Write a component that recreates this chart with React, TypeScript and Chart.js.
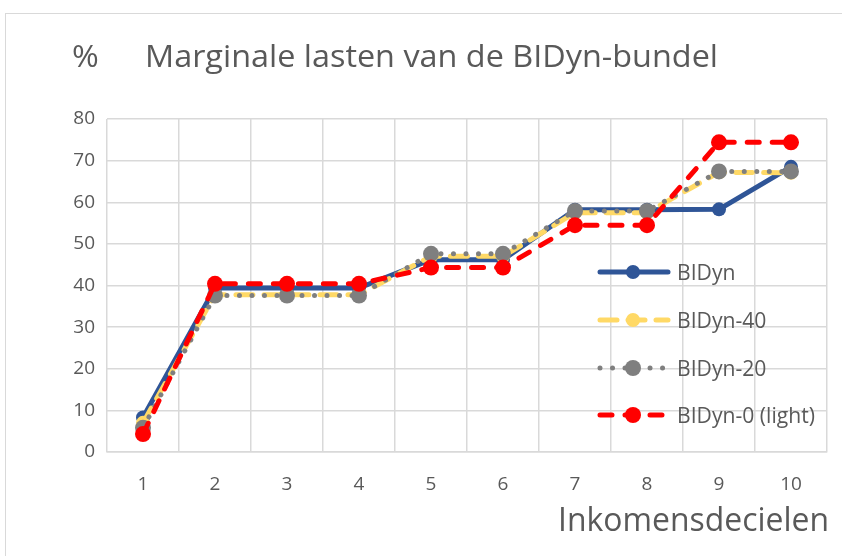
import React, { useEffect, useRef } from "react";
import { Chart, registerables } from "chart.js";

Chart.register(...registerables);

const categories = ["1", "2", "3", "4", "5", "6", "7", "8", "9", "10"];
const seriesNames = ["BIDyn", "BIDyn-40", "BIDyn-20", "BIDyn-0 (light)"];
const bidyn = [8.3, 39.4, 39.4, 39.4, 46.2, 46.2, 58.2, 58.2, 58.3, 68.5];
const bidyn40 = [7.0, 37.8, 37.8, 37.8, 47.0, 47.0, 57.5, 57.5, 67.2, 67.1];
const bidyn20 = [5.8, 37.6, 37.6, 37.6, 47.6, 47.6, 57.9, 57.9, 67.4, 67.4];
const bidyn0 = [4.3, 40.4, 40.4, 40.4, 44.3, 44.3, 54.5, 54.5, 74.4, 74.4];
const titleText = "Marginale lasten van de BIDyn-bundel";
const unitText = "%";
const xTitleText = "Inkomensdecielen";

const FONT = "'Open Sans', 'Noto Sans', sans-serif";
const TEXT = "#595959";
const GRID = "#d9d9d9";

const styles = [
  { color: "#2F5597", dash: [] as number[], radius: 7 },
  { color: "#FFD966", dash: [17, 11], radius: 7 },
  { color: "#7F7F7F", dash: [0.01, 12.5], radius: 8 },
  { color: "#FF0000", dash: [12, 13], radius: 8 },
];

function condensed(ctx: CanvasRenderingContext2D, size: number, ref: string, refWidth: number) {
  ctx.font = `${size}px ${FONT}`;
  return refWidth / ctx.measureText(ref).width;
}
function drawText(ctx: CanvasRenderingContext2D, text: string, x: number, y: number, sx: number, align: "left" | "right") {
  ctx.save();
  ctx.translate(x, y);
  ctx.scale(sx, 1);
  ctx.textAlign = align;
  ctx.textBaseline = "alphabetic";
  ctx.fillText(text, 0, 0);
  ctx.restore();
}

const overlayPlugin = {
  id: "overlay",
  afterDraw(chart: any) {
    const ctx = chart.ctx as CanvasRenderingContext2D;
    ctx.save();
    ctx.fillStyle = TEXT;
    const tsx = condensed(ctx, 31, titleText, 573);
    drawText(ctx, titleText, 145, 67, tsx, "left");
    drawText(ctx, unitText, 72, 67, tsx, "left");
    const xsx = condensed(ctx, 32, xTitleText, 271);
    drawText(ctx, xTitleText, 829, 531, xsx, "right");
    const ys = [272, 320, 368, 415];
    const lsx = condensed(ctx, 21, seriesNames[3], 138);
    seriesNames.forEach((name, i) => {
      const st = styles[i];
      const y = ys[i];
      ctx.save();
      ctx.strokeStyle = st.color;
      ctx.lineWidth = 5;
      ctx.lineCap = "round";
      ctx.setLineDash(st.dash);
      ctx.beginPath();
      ctx.moveTo(600, y);
      ctx.lineTo(668, y);
      ctx.stroke();
      ctx.setLineDash([]);
      ctx.fillStyle = st.color;
      ctx.beginPath();
      ctx.arc(633, y, st.radius, 0, Math.PI * 2);
      ctx.fill();
      ctx.restore();
      ctx.font = `21px ${FONT}`;
      ctx.fillStyle = TEXT;
      drawText(ctx, name, 677, y + 8, lsx, "left");
    });
    ctx.restore();
  },
};

export default function App() {
  const ref = useRef<HTMLCanvasElement>(null);
  useEffect(() => {
    if (!ref.current) return;
    const data = [bidyn, bidyn40, bidyn20, bidyn0];
    const chart = new Chart(ref.current, {
      type: "line",
      data: {
        labels: categories,
        datasets: data.map((d, i) => ({
          label: seriesNames[i],
          data: d,
          borderColor: styles[i].color,
          backgroundColor: styles[i].color,
          borderWidth: 5,
          borderDash: styles[i].dash,
          borderCapStyle: "round" as const,
          borderJoinStyle: "round" as const,
          pointRadius: styles[i].radius,
          pointBorderWidth: 0,
          pointBackgroundColor: styles[i].color,
          tension: 0,
          order: 3 - i,
        })),
      },
      options: {
        animation: false,
        responsive: false,
        layout: { padding: { left: 0, top: 119, right: 15, bottom: 44 } },
        plugins: { legend: { display: false }, title: { display: false }, tooltip: { enabled: false } },
        scales: {
          x: {
            offset: true,
            grid: { offset: true, color: GRID, lineWidth: 1.5, drawTicks: false },
            border: { color: GRID, width: 1.5 },
            ticks: { color: TEXT, font: { family: FONT, size: 19 }, padding: 21 },
            afterFit: (s: any) => { s.height = 60; },
          },
          y: {
            min: 0,
            max: 80,
            grid: { color: GRID, lineWidth: 1.5, drawTicks: false },
            border: { display: false },
            ticks: { stepSize: 10, color: TEXT, font: { family: FONT, size: 19 }, padding: 12 },
            afterFit: (s: any) => { s.width = 107; },
          },
        },
      },
      plugins: [overlayPlugin],
    });
    return () => chart.destroy();
  }, []);
  return (
    <div style={{ position: "fixed", left: 0, top: 0, width: 842, height: 556, overflow: "hidden", background: "#fff" }}>
      <div style={{ position: "absolute", left: 5, top: 13, width: 900, height: 700, border: "1.5px solid #d9d9d9", boxSizing: "border-box" }} />
      <canvas ref={ref} width={842} height={556} style={{ position: "absolute", left: 0, top: 0 }} />
    </div>
  );
}
